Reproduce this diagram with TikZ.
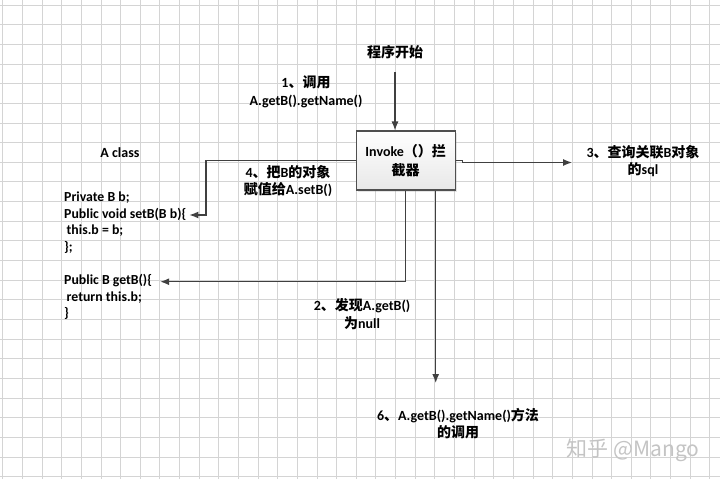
\documentclass[tikz,border=0pt]{standalone}
\usepackage{fontspec}
\setmainfont{Carlito}
\newfontfamily\cjk{Noto Sans CJK SC}
\usetikzlibrary{arrows.meta,shadows}
\newcommand{\zh}[1]{{\cjk #1}}
\definecolor{gridc}{HTML}{D4D4D4}
\definecolor{linec}{HTML}{404040}
\definecolor{boxc}{HTML}{505050}
\definecolor{wmc}{HTML}{C4C4C4}
\begin{document}
\begin{tikzpicture}[x=1pt,y=-1pt,
  lbl/.style={font=\bfseries\fontsize{14}{17.5}\selectfont, align=center, inner sep=0pt},
  codeline/.style={font=\bfseries\fontsize{13.8}{16}\selectfont, anchor=west, inner sep=0pt, text height=9.5pt, text depth=3pt},
  conn/.style={draw=linec, line width=1.2pt, -{Latex[length=9pt,width=7pt]}},
  boxstyle/.style={draw=boxc, line width=1.1pt, top color=white, bottom color=gray!18,
    minimum width=99pt, minimum height=59pt, align=center, inner sep=0pt,
    font=\bfseries\fontsize{14}{18.5}\selectfont,
    drop shadow={shadow xshift=2pt, shadow yshift=-2pt, opacity=0.2}}
]
\useasboundingbox (0,0) rectangle (720,479);
\fill[white] (0,0) rectangle (720,479);
% grid
\foreach \k in {0,...,36} {
  \draw[gridc, line width=0.8pt] ({2.7+19.64*\k},0) -- ({2.7+19.64*\k},479);
}
\foreach \k in {0,...,24} {
  \draw[gridc, line width=0.8pt] (0,{5+19.65*\k}) -- (720,{5+19.65*\k});
}

% nodes
\node[lbl] (start) at (395,52) {\zh{程序开始}};
\node[lbl] (l1) at (306,92) {1\zh{、调用}\\A.getB().getName()};
\node[boxstyle] (box) at (405.7,160.5) {Invoke\zh{（）拦}\\\zh{截器}};
\node[lbl] (l4) at (288,181) {4\zh{、把}B\zh{的对象}\\\zh{赋值给}A.setB()};
\node[lbl] (l3) at (643,161) {3\zh{、查询关联}B\zh{对象}\\\zh{的}sql};
\node[lbl] (l2) at (362,314) {2\zh{、发现}A.getB()\\\zh{为}null};
\node[lbl] (l6) at (458,423.5) {6\zh{、}A.getB().getName()\zh{方法}\\\zh{的调用}};
\node[lbl] (acls) at (120,153) {A class};

\node[codeline] (c1) at (64,198.3) {Private B b;};
\node[codeline] (c2) at (64,215) {Public void setB(B b)\{};
\node[codeline] (c3) at (64,231) {\hspace{2.5pt}this.b = b;};
\node[codeline] (c4) at (64,248) {\};};
\node[codeline] (c5) at (64,281.7) {Public B getB()\{};
\node[codeline] (c6) at (64,298.3) {\hspace{2.5pt}return this.b;};
\node[codeline] (c7) at (64,314) {\}};

\node[text=wmc, font=\cjk\fontsize{21}{21}\selectfont, inner sep=0pt] (wm) at (633,450) {知乎 @Mango};

% bend coordinates
\coordinate (k0) at (395,72);
\coordinate (k4) at (206,160.5);
\coordinate (k2) at (405.7,281.7);
\coordinate (k6) at (435.7,383);
\coordinate (k3) at (572,162.5);

% connectors
\draw[conn] (k0) -- (box.north -| k0);
\draw[conn] (box.west) -- (k4) |- ([xshift=3pt]c2.east);
\draw[conn] (box.south -| k2) -- (k2) -- ([xshift=8pt]c5.east);
\draw[conn] (box.south -| k6) -- (k6);
\draw[conn] (box.east) -- ++(7,0) -- ++(0,2) -- (k3);
\end{tikzpicture}
\end{document}
